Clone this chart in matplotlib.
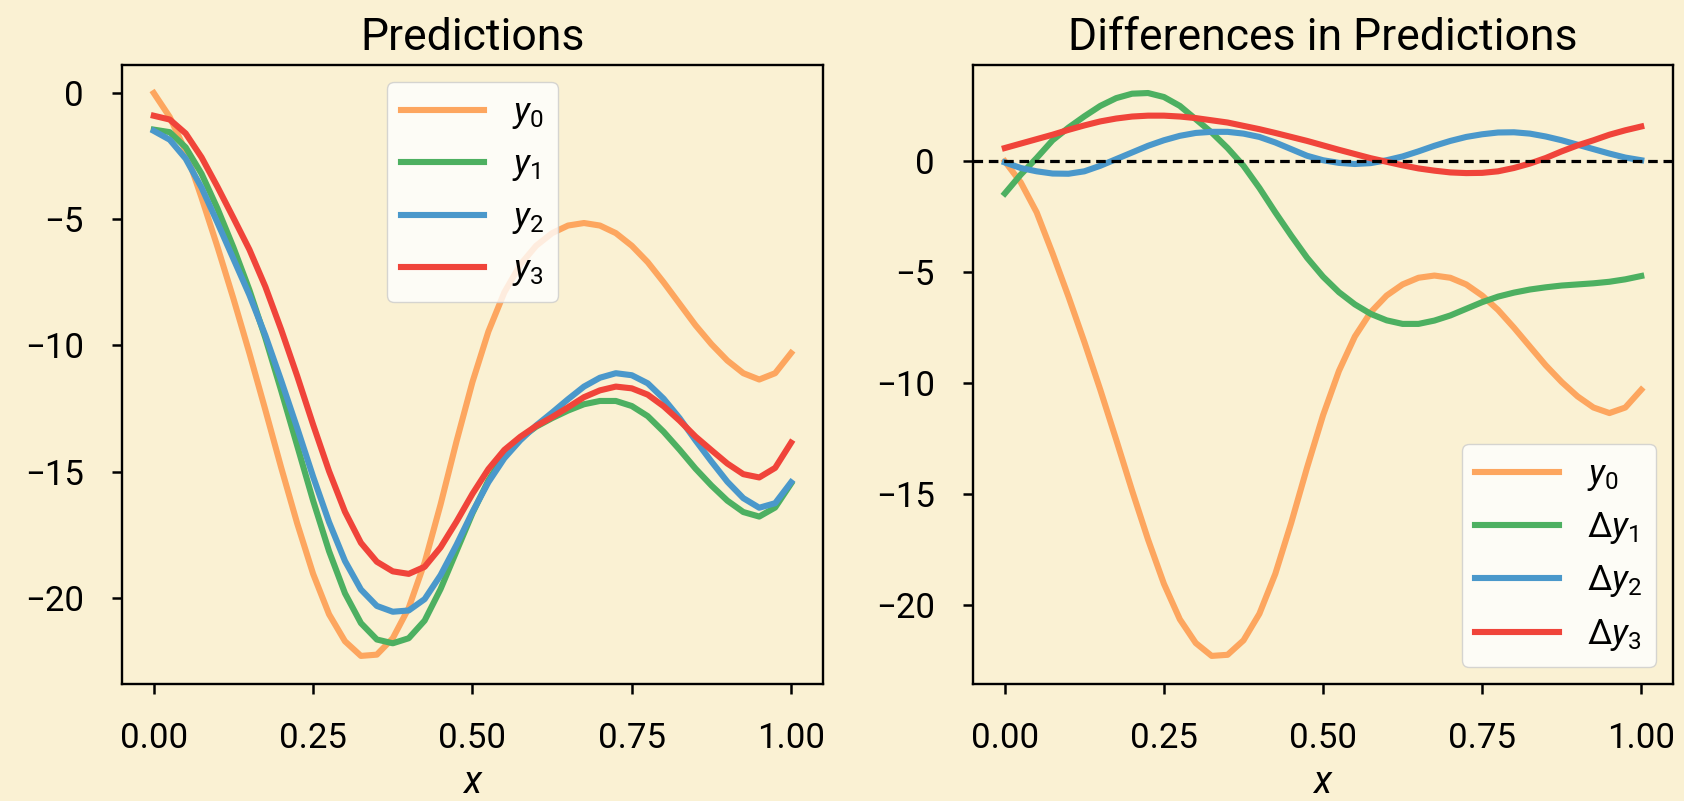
import numpy as np
import matplotlib.pyplot as plt

plt.rcParams['font.family'] = ['Roboto', 'DejaVu Sans']
plt.rcParams['mathtext.fontset'] = 'custom'
plt.rcParams['mathtext.rm'] = 'Roboto'
plt.rcParams['mathtext.it'] = 'Roboto:italic'
plt.rcParams['mathtext.sf'] = 'Roboto'

# sample points on [0, 1]
x = np.linspace(0, 1, 41)

# base prediction y0
y0 = [0.0, -0.95, -2.3, -4.15, -6.1, -8.15, -10.3, -12.55, -14.85, -17.05,
      -19.05, -20.65, -21.72, -22.3, -22.25, -21.6, -20.4, -18.6, -16.3, -13.8,
      -11.45, -9.45, -7.9, -6.8, -6.05, -5.55, -5.25, -5.15, -5.25, -5.55,
      -6.05, -6.7, -7.5, -8.35, -9.2, -9.95, -10.6, -11.1, -11.35, -11.1,
      -10.3]

# successive differences dy_k = y_k - y_(k-1)
dy1 = [-1.45, -0.6, 0.15, 0.95, 1.52, 2.03, 2.5, 2.85, 3.05, 3.08,
       2.9, 2.5, 1.9, 1.3, 0.6, -0.2, -1.2, -2.3, -3.35, -4.35,
       -5.2, -5.9, -6.45, -6.88, -7.17, -7.33, -7.33, -7.18, -6.95, -6.65,
       -6.35, -6.1, -5.92, -5.78, -5.68, -5.6, -5.55, -5.5, -5.43, -5.32,
       -5.17]
dy2 = [-0.05, -0.3, -0.45, -0.55, -0.56, -0.45, -0.2, 0.1, 0.4, 0.7,
       0.95, 1.15, 1.28, 1.33, 1.33, 1.25, 1.1, 0.85, 0.55, 0.25,
       0.05, -0.07, -0.12, -0.08, 0.05, 0.22, 0.45, 0.7, 0.92, 1.1,
       1.22, 1.3, 1.31, 1.25, 1.12, 0.95, 0.75, 0.55, 0.35, 0.17,
       0.05]
dy3 = [0.6, 0.8, 1.0, 1.2, 1.42, 1.62, 1.8, 1.93, 2.02, 2.06,
       2.06, 2.02, 1.95, 1.85, 1.75, 1.6, 1.45, 1.28, 1.1, 0.92,
       0.72, 0.52, 0.33, 0.14, -0.02, -0.18, -0.32, -0.42, -0.5, -0.53,
       -0.52, -0.45, -0.3, -0.1, 0.15, 0.45, 0.72, 0.95, 1.2, 1.4,
       1.57]

y0 = np.array(y0)
y1 = y0 + np.array(dy1)
y2 = y1 + np.array(dy2)
y3 = y2 + np.array(dy3)

colors = ['#FDA65F', '#4DB061', '#4A98CB', '#F0443A']
bg = '#FAF1D3'

fig = plt.figure(figsize=(16.84, 8.01), dpi=100, facecolor=bg)
ax1 = fig.add_axes([0.0724, 0.146, 0.4163, 0.773])
ax2 = fig.add_axes([0.5778, 0.146, 0.4157, 0.773])

lw = 4.4
for ys, c, lab in zip([y0, y1, y2, y3], colors, ['$y_0$', '$y_1$', '$y_2$', '$y_3$']):
    ax1.plot(x, ys, color=c, lw=lw, label=lab)

for ys, c, lab in zip([y0, dy1, dy2, dy3], colors,
                      ['$y_0$', r'$\Delta y_1$', r'$\Delta y_2$', r'$\Delta y_3$']):
    ax2.plot(x, ys, color=c, lw=lw, label=lab)
ax2.axhline(0, color='k', ls=(0, (3.0, 1.8)), lw=2.3)

for ax in (ax1, ax2):
    ax.set_facecolor(bg)
    for s in ax.spines.values():
        s.set_linewidth(1.7)
        s.set_color('black')
    ax.tick_params(length=7.5, width=1.8, labelsize=25, pad=20)
    ax.set_xticks([0, 0.25, 0.5, 0.75, 1.0])
    ax.set_xticklabels(['0.00', '0.25', '0.50', '0.75', '1.00'])
    ax.set_xlabel('$x$', fontsize=27, labelpad=6)

ax1.set_yticks([0, -5, -10, -15, -20])
ax2.set_yticks([0, -5, -10, -15, -20])

ax1.set_title('Predictions', fontsize=32, pad=11)
ax2.set_title('Differences in Predictions', fontsize=32, pad=11)

ax1.legend(loc='upper center', fontsize=25, handlelength=2.4)
ax2.legend(loc='lower right', fontsize=25, handlelength=2.4)

fig.savefig('out.png', dpi=100, facecolor=bg)
